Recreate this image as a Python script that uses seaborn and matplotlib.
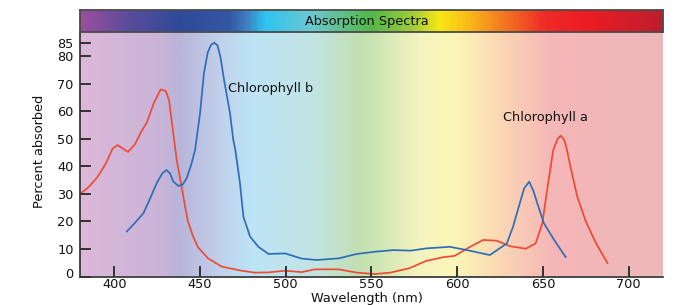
import numpy as np
import pandas as pd
import matplotlib
matplotlib.use("Agg")
import matplotlib.pyplot as plt
import matplotlib.transforms as mtransforms
from matplotlib.colors import LinearSegmentedColormap
import seaborn as sns

# ---------------- data ----------------
chl_a_wl = [380, 385, 390, 395, 399, 402, 405, 408, 412, 416, 419, 423, 427, 430,
            432, 434.4, 436.4, 438, 440, 442.8, 445.7, 448.6, 454.7, 462.6, 474.3,
            482, 490, 499.6, 509.4, 517, 531, 541.4, 552, 561, 572, 581.6, 591.6,
            598.5, 607.2, 615.2, 623, 630.9, 640, 645.7, 649.6, 653, 656, 658.5,
            660.4, 662.5, 664, 666, 670, 675, 681, 687.7]
chl_a_val = [30, 32.5, 36, 41, 46.5, 47.8, 46.5, 45.3, 48, 53, 56, 63, 68, 67.5,
             64, 52, 42.4, 37, 30, 20.3, 15, 10.8, 6.6, 3.6, 2.1,
             1.4, 1.5, 2.1, 1.6, 2.6, 2.6, 1.4, 0.9, 1.4, 3.0, 5.6, 7.0,
             7.5, 10.7, 13.3, 13.0, 11.0, 10.1, 12.0, 19.3, 33.9, 46, 50,
             51.2, 49.5, 46, 40, 29, 20, 12, 4.8]

chl_b_wl = [407.2, 412, 417, 421, 424.7, 428, 430.4, 432.5, 434.4, 437.4, 440,
            442.2, 445, 447.1, 450, 452.3, 454.5, 456.5, 458.4, 460.2, 462, 464,
            467.5, 469.4, 470.6, 473.3, 475.3, 479.2, 484, 489.9, 499.6, 509.4,
            518, 531, 541.4, 552, 562.7, 573, 581.6, 595.7, 607.2, 619, 628.9,
            632.5, 635.9, 639, 642, 644.5, 646.7, 650.6, 656.5, 663.3]
chl_b_val = [16.3, 19.5, 23, 28.5, 33.9, 37.5, 38.7, 37.5, 34.5, 32.9, 33.5,
             35.7, 41, 46, 59.3, 74, 81.5, 84.3, 85, 84, 79.5, 71.5,
             59.3, 49.6, 46, 33.9, 21.7, 14.5, 10.8, 8.2, 8.4, 6.5,
             6.0, 6.6, 8.2, 9.0, 9.6, 9.4, 10.2, 10.8, 9.4, 7.8, 12.0,
             18, 25.4, 32, 34.5, 31, 26.6, 19.3, 13.3, 7.0]

x_ticks = [400, 450, 500, 550, 600, 650, 700]
y_ticks = [0, 10, 20, 30, 40, 50, 60, 70, 80, 85]
series_names = ["Chlorophyll a", "Chlorophyll b"]

df = pd.concat([
    pd.DataFrame({"wl": chl_a_wl, "val": chl_a_val, "pigment": series_names[0]}),
    pd.DataFrame({"wl": chl_b_wl, "val": chl_b_val, "pigment": series_names[1]}),
], ignore_index=True)

# ---------------- style ----------------
sns.set_style("ticks")
plt.rcParams.update({
    "font.family": ["DejaVu Sans"],
    "axes.axisbelow": False,
    "xtick.bottom": True, "ytick.left": True,
    "xtick.top": False, "ytick.right": False,
    "xtick.direction": "in", "ytick.direction": "in",
    "xtick.major.size": 7.5, "ytick.major.size": 7.5,
    "xtick.major.width": 1.2, "ytick.major.width": 1.2,
    "xtick.color": "#333333", "ytick.color": "#333333",
    "xtick.labelcolor": "#111111", "ytick.labelcolor": "#111111",
})

W, H = 680, 305
fig = plt.figure(figsize=(W / 100, H / 100), dpi=100)
left_px, right_px, bottom_px, top_px, bar_top_px = 80, 663, 276.5, 32, 10
ax = fig.add_axes([left_px / W, (H - bottom_px) / H, (right_px - left_px) / W,
                   (bottom_px - top_px) / H])
bax = fig.add_axes([left_px / W, (H - top_px) / H, (right_px - left_px) / W,
                    (top_px - bar_top_px) / H])

XMIN, XMAX, YMIN, YMAX = 380, 720, 0, 88.9

bar_stops = [(0.0, "#9A4F9E"), (0.082, "#5A4C9B"), (0.168, "#2F4A9A"),
             (0.254, "#3456A6"), (0.283, "#3E7BC0"), (0.317, "#2EC4F0"),
             (0.396, "#6CC8D0"), (0.499, "#52B848"), (0.571, "#A0CB3C"),
             (0.617, "#F7E914"), (0.669, "#F9B81A"), (0.726, "#F37A22"),
             (0.801, "#EE2A26"), (0.870, "#ED1C24"), (1.0, "#BE1E2D")]
bg_stops = [(0.0, "#DDB8D8"), (0.139, "#C8B4D8"), (0.168, "#B8B4DA"),
            (0.237, "#C2D0EA"), (0.293, "#BCE4F6"), (0.396, "#C2E4E6"),
            (0.482, "#C2E0B0"), (0.583, "#F4F4C0"), (0.640, "#FCF7B8"),
            (0.726, "#FBD6B4"), (0.811, "#F6B6B8"), (1.0, "#EDB8B8")]
bar_cmap = LinearSegmentedColormap.from_list("bar", bar_stops)
bg_cmap = LinearSegmentedColormap.from_list("bg", bg_stops)
grad = np.linspace(0, 1, 600).reshape(1, -1)

ax.imshow(grad, cmap=bg_cmap, extent=(XMIN, XMAX, YMIN, YMAX), aspect="auto",
          zorder=0, interpolation="bilinear")

sns.lineplot(data=df, x="wl", y="val", hue="pigment",
             estimator=None, sort=False, ax=ax, legend=False,
             palette={series_names[0]: "#EF4A34", series_names[1]: "#2E6DB8"},
             linewidth=1.25, zorder=3)

ax.set_xlim(XMIN, XMAX)
ax.set_ylim(YMIN, YMAX)
ax.set_xticks(x_ticks)
ax.set_yticks(y_ticks)
ax.tick_params(axis="both", which="major", direction="in", length=7.5, width=1.2,
               color="#333333", labelsize=9.3, labelcolor="#111111",
               bottom=True, left=True, top=False, right=False)
ax.tick_params(axis="x", pad=1.2)
ax.tick_params(axis="y", pad=4.5)
for s in ["top", "right"]:
    ax.spines[s].set_visible(False)
for s in ["left", "bottom"]:
    ax.spines[s].set_color("#3a3a3a")
    ax.spines[s].set_linewidth(1.3)
    ax.spines[s].set_zorder(5)

# explicit inward tick marks at the tick positions (axes-fraction length)
tick_len_x = 10.5 / (bottom_px - top_px)
tick_len_y = 11.0 / (right_px - left_px)
ax.vlines(x_ticks, 0, tick_len_x, transform=ax.get_xaxis_transform(),
          colors="#333333", linewidth=1.3, zorder=6, clip_on=False)
ax.hlines(y_ticks, 0, tick_len_y, transform=ax.get_yaxis_transform(),
          colors="#333333", linewidth=1.3, zorder=6, clip_on=False)

# raise the "0" tick label slightly as in the reference
t0 = ax.yaxis.get_major_ticks()[0].label1
t0.set_transform(t0.get_transform() +
                 mtransforms.ScaledTranslation(0, 3.5 / 100, fig.dpi_scale_trans))

ax.set_xlabel("Wavelength (nm)", fontsize=9.3, color="#111111")
ax.set_ylabel("Percent absorbed", fontsize=9.3, color="#111111")
ax.xaxis.set_label_coords((367 - left_px) / (right_px - left_px),
                          (bottom_px - 292) / (bottom_px - top_px))
ax.yaxis.set_label_coords((46 - left_px) / (right_px - left_px),
                          (bottom_px - 151.5) / (bottom_px - top_px))

ax.text(466.5, 68.5, "Chlorophyll b", fontsize=9.3, color="#111111",
        ha="left", va="center", zorder=4)
ax.text(626.5, 57.8, "Chlorophyll a", fontsize=9.3, color="#111111",
        ha="left", va="center", zorder=4)

# title colour bar
bax.imshow(grad, cmap=bar_cmap, extent=(0, 1, 0, 1), aspect="auto",
           interpolation="bilinear")
bax.set_xlim(0, 1)
bax.set_ylim(0, 1)
bax.set_xticks([])
bax.set_yticks([])
bax.tick_params(bottom=False, left=False)
for s in bax.spines.values():
    s.set_visible(True)
    s.set_color("#4a4a4a")
    s.set_linewidth(1.3)
bax.text((367 - left_px) / (right_px - left_px), 0.48, "Absorption Spectra",
         fontsize=9.3, color="#111111", ha="center", va="center")

fig.savefig("out.png", dpi=100)
